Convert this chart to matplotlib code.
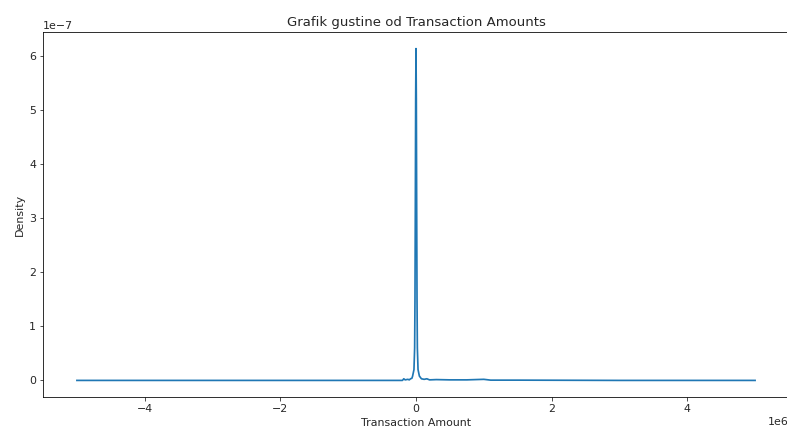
import matplotlib
matplotlib.use("Agg")
import matplotlib.pyplot as plt

# KDE curve of transaction amounts (x in currency units, y = density)
amount = [-5.0e6, -3.0e6, -1.0e6, -2.0e5, -1.8e5, -1.6e5, -1.2e5, -1.0e5,
          -8.0e4, -6.0e4, -5.0e4, -3.0e4, -2.0e4, -1.5e4, -1.0e4, -5.0e3,
          0.0, 5.0e3, 1.0e4, 1.5e4, 2.0e4, 3.0e4, 5.0e4, 8.0e4,
          1.2e5, 1.6e5, 2.0e5, 3.0e5, 5.0e5, 7.5e5, 1.0e6, 1.1e6,
          1.5e6, 3.0e6, 5.0e6]
density = [0.0, 0.0, 0.0, 0.0, 3e-9, 1e-9, 2e-9, 1e-9,
           3e-9, 4e-9, 8e-9, 2e-8, 6e-8, 1.5e-7, 3.2e-7, 5.2e-7,
           6.13e-7, 5.2e-7, 3.2e-7, 1.5e-7, 6e-8, 2e-8, 8e-9, 3e-9,
           2e-9, 3e-9, 1e-9, 1.5e-9, 1e-9, 1e-9, 2e-9, 0.5e-9,
           0.5e-9, 0.0, 0.0]

plt.rcParams["font.size"] = 11
plt.rcParams["text.color"] = "#262626"
plt.rcParams["axes.labelcolor"] = "#262626"
plt.rcParams["xtick.color"] = "#262626"
plt.rcParams["ytick.color"] = "#262626"

fig = plt.figure(figsize=(787 / 72, 431 / 72), dpi=72)
ax = fig.add_axes([43 / 787, 34 / 431, 746 / 787, 365 / 431])

ax.plot(amount, density, color="#1f77b4", linewidth=1.7)

ax.set_title("Grafik gustine od Transaction Amounts", fontsize=13.3)
ax.set_xlabel("Transaction Amount")
ax.set_ylabel("Density")

fig.savefig("out.png", dpi=72)
